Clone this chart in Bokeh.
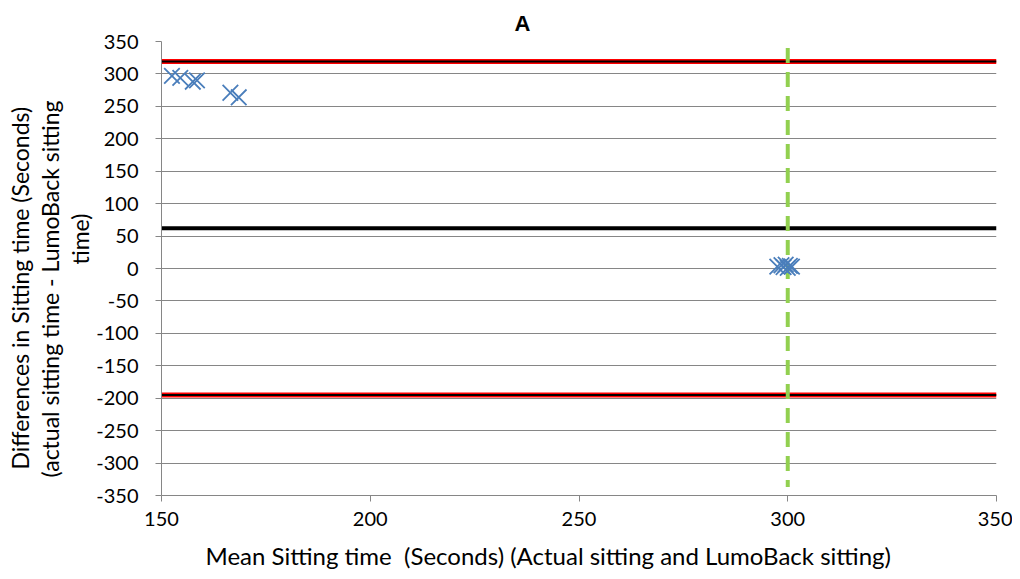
from bokeh.plotting import figure
from bokeh.models import Range1d, FixedTicker, Title
from bokeh.embed import file_html
from bokeh.resources import INLINE

# ---- data ----
mean_sitting = [152.5, 154.5, 157.5, 158.5, 166.5, 168.5,
                297.5, 298.5, 299.0, 299.5, 300.0, 300.5, 301.0]
diff_sitting = [297, 294, 288, 290, 271, 264,
                3, 5, 2, 6, 1, 4, 3]
mean_diff = 62
upper_loa = 319
lower_loa = -195
ref_x = 300
ref_y = [340, -337]
x_limits = [150, 350]
y_limits = [-350, 350]
x_ticks = [150, 200, 250, 300, 350]
y_ticks = [-350, -300, -250, -200, -150, -100, -50, 0, 50, 100, 150, 200, 250, 300, 350]

title_text = "A"
x_title = "Mean Sitting time \u00a0(Seconds) (Actual sitting and LumoBack sitting)"
y_title_lines = ["Differences in Sitting time (Seconds)",
                 "(actual sitting time - LumoBack sitting",
                 "time)"]

FONT = "Lato"
GRID = "#868686"
BLUE = "#4A7EBB"

p = figure(width=1012, height=579, output_backend="svg", toolbar_location=None,
           x_range=Range1d(*x_limits), y_range=Range1d(*y_limits),
           min_border_left=161, min_border_right=16, min_border_top=41,
           min_border_bottom=83)
p.outline_line_color = None
p.background_fill_color = "white"

p.title.text = title_text
p.title.align = "left"
p.title.offset = 353
p.title.text_font = "Liberation Sans"
p.title.text_font_style = "bold"
p.title.text_font_size = "22px"
p.title.text_color = "black"
p.title.standoff = 12

for ax, ticks in ((p.xaxis[0], x_ticks), (p.yaxis[0], y_ticks)):
    ax.ticker = FixedTicker(ticks=ticks)
    ax.major_label_overrides = {t: str(t) for t in ticks}
    ax.axis_line_color = GRID
    ax.major_tick_line_color = GRID
    ax.major_tick_out = 6
    ax.major_tick_in = 0
    ax.minor_tick_out = 0
    ax.minor_tick_in = 0
    ax.major_label_text_font = FONT
    ax.major_label_text_font_size = "20px"
    ax.major_label_text_color = "black"
p.yaxis[0].major_label_standoff = 17
p.xaxis[0].major_label_standoff = 10

p.xgrid.grid_line_color = None
p.ygrid.grid_line_color = GRID
p.ygrid.grid_line_width = 1
p.ygrid.ticker = FixedTicker(ticks=y_ticks)

# limits of agreement
for yv in (upper_loa, lower_loa):
    p.line(x=x_limits, y=[yv, yv], line_color="#FF0000", line_width=5)
    p.line(x=x_limits, y=[yv, yv], line_color="black", line_width=2)
# mean difference
p.line(x=x_limits, y=[mean_diff, mean_diff], line_color="black", line_width=4)
# reference vertical
p.line(x=[ref_x, ref_x], y=ref_y, line_color="#92D050", line_width=4,
       line_dash="15 9")

p.scatter(x=mean_sitting, y=diff_sitting, marker="x", size=22,
          line_color=BLUE, line_width=1.8)

# axis titles as side panels
p.add_layout(Title(text=x_title, align="left", offset=44, standoff=20,
                   text_font=FONT, text_font_size="24px", text_font_style="normal",
                   text_color="black"),
             "below")
y_offsets = [231, 18, 26]
for t, off in zip(reversed(y_title_lines), y_offsets):
    p.add_layout(Title(text=t, align="left", offset=off, standoff=0,
                       text_font=FONT, text_font_size="23px",
                       text_font_style="normal", text_color="black"), "left")

open("out.html", "w").write(file_html(p, INLINE))
